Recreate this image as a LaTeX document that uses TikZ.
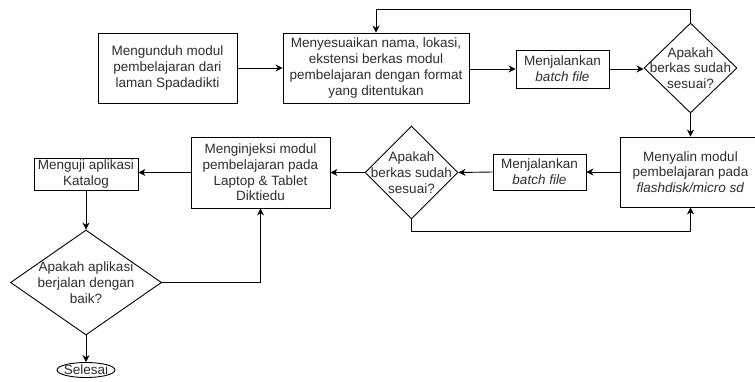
\documentclass[tikz,border=0pt]{standalone}
\usepackage{fontspec}
\setmainfont{Liberation Sans}
\usetikzlibrary{shapes.geometric,arrows.meta}
\definecolor{txtc}{RGB}{45,45,45}
\begin{document}
\begin{tikzpicture}[x=1pt,y=-1pt,
  every node/.style={font=\fontsize{13.5}{15.7}\selectfont, text=txtc},
  box/.style={draw, line width=0.9pt, align=center, inner sep=1pt},
  dia/.style={draw, diamond, line width=0.9pt, inner sep=0pt},
  txt/.style={align=center, inner sep=0pt},
  arr/.style={draw, line width=0.9pt, -{Stealth[length=7pt,width=7pt]}}]
\useasboundingbox (0,0) rectangle (755,381);
\node[box, minimum width=139pt, minimum height=70pt] (b1) at (167.5,68) {Mengunduh modul\\pembelajaran dari\\laman Spadadikti};
\node[box, minimum width=186pt, minimum height=70pt] (b2) at (376,68) {Menyesuaikan nama, lokasi,\\ekstensi berkas modul\\pembelajaran dengan format\\yang ditentukan};
\node[box, minimum width=93pt, minimum height=38pt] (b3) at (562.5,69) {Menjalankan\\\textit{batch file}};
\node[dia, minimum width=93pt, minimum height=90pt] (d1) at (690.5,68) {};
\node[txt] at (d1) {Apakah\\berkas sudah\\sesuai?};
\node[box, minimum width=140pt, minimum height=70pt] (b4) at (690.5,172) {Menyalin modul\\pembelajaran pada\\\textit{flashdisk/micro sd}};
\node[box, minimum width=93pt, minimum height=36pt] (b5) at (539.5,172) {Menjalankan\\\textit{batch file}};
\node[dia, minimum width=93pt, minimum height=93pt] (d2) at (411.5,172.5) {};
\node[txt] at (d2) {Apakah\\berkas sudah\\sesuai?};
\node[box, minimum width=139pt, minimum height=71pt] (b6) at (260.5,172.5) {Menginjeksi modul\\pembelajaran pada\\Laptop \& Tablet\\Diktiedu};
\node[box, minimum width=104pt, minimum height=32pt] (b7) at (86,174) {Menguji aplikasi\\Katalog};
\node[dia, minimum width=151pt, minimum height=105pt] (d3) at (86,282.5) {};
\node[txt] at (d3) {Apakah aplikasi\\berjalan dengan\\baik?};
\node[draw, ellipse, line width=0.9pt, minimum width=58pt, minimum height=15pt, inner sep=0pt] (e1) at (86,370) {};
\node[inner sep=0pt] at (e1) {Selesai};
\draw[arr] (b1.east) -- (b2.west);
\draw[arr] (b2.east |- b3.west) -- (b3.west);
\draw[arr] (b3.east) -- (b3.east -| d1.west);
\draw[arr] (d1.north) -- ++(0,-13) -| (b2.north);
\draw[arr] (d1.south) -- (b4.north);
\draw[arr] (b4.west) -- (b5.east);
\draw[arr] (b5.west) -- (d2.east);
\draw[arr] (d2.south) -- ++(0,12) -| (b4.south);
\draw[arr] (d2.west) -- (b6.east);
\draw[arr] (b6.west) -- (b6.west -| b7.east);
\draw[arr] (b7.south) -- (d3.north);
\draw[arr] (d3.east) -| (b6.south);
\draw[arr] (d3.south) -- (e1.north);
\end{tikzpicture}
\end{document}
